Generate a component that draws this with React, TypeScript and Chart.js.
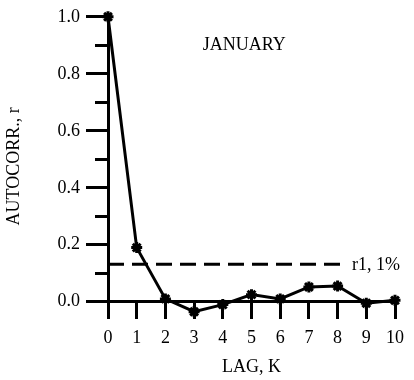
import React, { useEffect, useRef } from "react";
import { Chart, registerables } from "chart.js";

Chart.register(...registerables);

const lags = [0, 1, 2, 3, 4, 5, 6, 7, 8, 9, 10];
const autocorr = [1.0, 0.19, 0.01, -0.035, -0.01, 0.025, 0.01, 0.052, 0.055, -0.005, 0.005];
const sigLevel = 0.132;
const sigLineX = [0, 8.1];
const sigLabel = "r1, 1%";
const monthLabel = "JANUARY";
const xTitle = "LAG, K";
const yTitle = "AUTOCORR., r";
const yMin = -0.05;
const yMax = 1.0;

const FONT = "'Liberation Serif', 'Times New Roman', serif";

const textPlugin = {
  id: "texts",
  afterDatasetsDraw(chart: any) {
    const { ctx, scales } = chart;
    const x = scales.x;
    const y = scales.y;
    ctx.save();
    ctx.fillStyle = "#000";
    ctx.font = `18px ${FONT}`;
    ctx.textBaseline = "middle";
    ctx.textAlign = "left";
    ctx.fillText(sigLabel, x.getPixelForValue(8.5), y.getPixelForValue(sigLevel) + 1);
    ctx.textAlign = "center";
    ctx.fillText(monthLabel, x.getPixelForValue(4.75), y.getPixelForValue(0.9));
    ctx.restore();
  },
};

const tickCol = (c: any) => (c.tick && c.tick.value < -1e-9 ? "rgba(0,0,0,0)" : "#000");

export default function App() {
  const ref = useRef<HTMLCanvasElement>(null);
  useEffect(() => {
    if (!ref.current) return;
    const chart = new Chart(ref.current, {
      type: "line",
      data: {
        datasets: [
          {
            data: lags.map((l, i) => ({ x: l, y: autocorr[i] })),
            borderColor: "#000",
            borderWidth: 3,
            pointStyle: "star",
            pointRadius: 5.5,
            pointBorderWidth: 3,
            pointBorderColor: "#000",
            pointBackgroundColor: "#000",
            tension: 0,
            clip: false as any,
          },
          {
            data: sigLineX.map((v) => ({ x: v, y: sigLevel })),
            borderColor: "#000",
            borderWidth: 3,
            borderDash: [16, 8],
            pointRadius: 0,
            tension: 0,
            clip: false as any,
          },
        ],
      },
      plugins: [textPlugin],
      options: {
        animation: false,
        responsive: false,
        maintainAspectRatio: false,
        layout: { padding: { left: 0, right: 18, top: 14, bottom: 64 } },
        plugins: {
          legend: { display: false },
          tooltip: { enabled: false },
          title: { display: false },
        },
        scales: {
          x: {
            type: "linear",
            position: { y: 0 },
            min: 0,
            max: 10,
            afterFit: (s: any) => {
              s.height = 64;
            },
            border: { display: true, color: "#000", width: 3 },
            grid: {
              drawOnChartArea: false,
              drawTicks: true,
              tickLength: 16,
              tickWidth: 3,
              tickColor: "#000",
            },
            ticks: {
              stepSize: 1,
              color: "#000",
              padding: 10,
              font: { family: FONT, size: 18 },
            },
            title: {
              display: true,
              text: xTitle,
              color: "#000",
              font: { family: FONT, size: 18 },
              padding: { top: 0, bottom: -12 },
            },
          },
          y: {
            type: "linear",
            position: "left",
            weight: 1,
            min: yMin,
            max: yMax,
            afterFit: (s: any) => {
              s.width = 108;
            },
            border: { display: true, color: "#000", width: 3 },
            grid: {
              drawOnChartArea: false,
              tickLength: 22,
              tickWidth: 3,
              tickColor: tickCol,
            },
            ticks: {
              stepSize: 0.2,
              includeBounds: false,
              color: "#000",
              padding: 6,
              font: { family: FONT, size: 18 },
              callback: (v: any) => (Number(v) < -1e-9 ? "" : Number(v).toFixed(1)),
            },
            title: {
              display: true,
              text: yTitle,
              color: "#000",
              font: { family: FONT, size: 18 },
              padding: { top: 3, bottom: 0 },
            },
          },
          y2: {
            type: "linear",
            position: "left",
            weight: 0,
            min: yMin,
            max: yMax,
            afterFit: (s: any) => {
              s.width = 0;
            },
            border: { display: false },
            grid: {
              drawOnChartArea: false,
              tickLength: 13,
              tickWidth: 3,
              tickColor: tickCol,
            },
            ticks: { stepSize: 0.1, includeBounds: false, display: false },
          },
        },
      } as any,
    });
    return () => chart.destroy();
  }, []);
  return (
    <div style={{ position: "absolute", left: 0, top: 0, width: 414, height: 380, background: "#fff" }}>
      <canvas ref={ref} width={414} height={380} style={{ width: 414, height: 380 }} />
    </div>
  );
}
